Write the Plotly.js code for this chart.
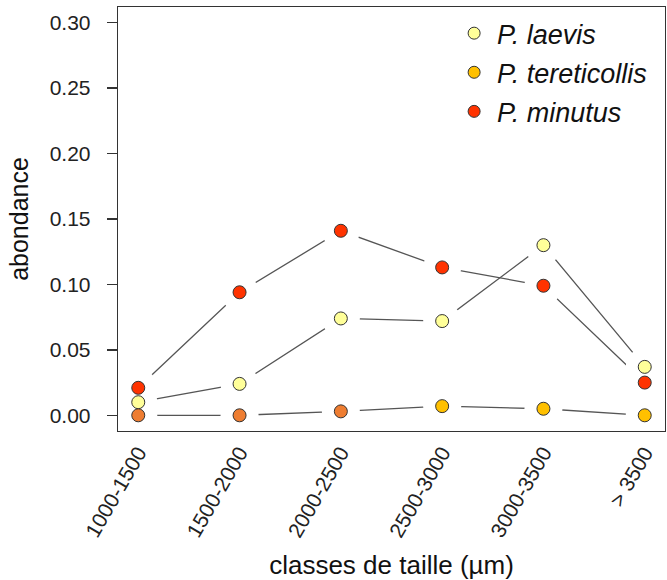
<!DOCTYPE html>
<html>
<head>
<meta charset="utf-8">
<script src="https://cdn.plot.ly/plotly-3.0.1.min.js"></script>
<style>
  html, body { margin: 0; padding: 0; background: #fff; }
  #chart { width: 667px; height: 580px; }
</style>
</head>
<body>
<div id="chart"></div>
<script>
// ---- data ----
const categories = ["1000-1500", "1500-2000", "2000-2500", "2500-3000", "3000-3500", "> 3500"];
const seriesNames = ["P. laevis", "P. tereticollis", "P. minutus"];
const laevis       = [0.010, 0.024, 0.074, 0.072, 0.130, 0.037];
const tereticollis = [0.000, 0.000, 0.003, 0.007, 0.005, 0.000];
const minutus      = [0.021, 0.094, 0.141, 0.113, 0.099, 0.025];
const yTicks = [0, 0.05, 0.10, 0.15, 0.20, 0.25, 0.30];

// ---- styles ----
const FONT = "Liberation Sans, Arial, sans-serif";
const fills = ["#FFFF99", "#FFC000", "#FF3300"];
const teretiFills = ["#EE7D31", "#EE7D31", "#EE7D31", "#FFC000", "#FFC000", "#FFC000"];
const seriesValues = [laevis, tereticollis, minutus];

const traces = [];
// connecting lines
seriesValues.forEach(function (vals) {
  traces.push({
    type: "scatter", mode: "lines", x: categories, y: vals,
    line: { color: "#555555", width: 1.3 }, showlegend: false, hoverinfo: "skip"
  });
});
// white halo to create the gaps around points (like R type="b")
traces.push({
  type: "scatter", mode: "markers",
  x: [].concat(categories, categories, categories),
  y: [].concat(laevis, tereticollis, minutus),
  marker: { color: "#ffffff", size: 38, line: { width: 0 } },
  showlegend: false, hoverinfo: "skip"
});
// points
seriesValues.forEach(function (vals, i) {
  traces.push({
    type: "scatter", mode: "markers", x: categories, y: vals,
    name: seriesNames[i],
    marker: { color: i === 1 ? teretiFills : fills[i], size: 13, line: { color: "#333333", width: 1 } },
    showlegend: false
  });
});
// legend entries
seriesValues.forEach(function (vals, i) {
  traces.push({
    type: "scatter", mode: "markers", x: [null], y: [null],
    name: "<i>" + seriesNames[i] + "</i>", legendgroup: "g" + i,
    marker: { color: fills[i], size: 12, line: { color: "#333333", width: 1 } },
    showlegend: true
  });
});

const layout = {
  width: 667, height: 580,
  margin: { l: 118, r: 2, t: 7, b: 149 },
  paper_bgcolor: "#ffffff", plot_bgcolor: "#ffffff",
  font: { family: FONT, color: "#222222", size: 21 },
  showlegend: true,
  legend: {
    x: 0.609, y: 0.995, xanchor: "left", yanchor: "top",
    font: { family: FONT, size: 27, color: "#111111" },
    bgcolor: "rgba(0,0,0,0)", borderwidth: 0,
    traceorder: "grouped", tracegroupgap: 1, itemwidth: 36
  },
  xaxis: {
    type: "category", range: [-0.2, 5.2],
    showgrid: false, zeroline: false,
    showline: true, mirror: true, linecolor: "#333333", linewidth: 1.3,
    ticks: "", tickangle: -60,
    tickfont: { family: FONT, size: 21, color: "#222222" },
    title: { text: "classes de taille (µm)", font: { family: FONT, size: 26, color: "#111111" }, standoff: 17 }
  },
  yaxis: {
    range: [-0.012, 0.312],
    tickvals: yTicks, tickformat: ".2f",
    showgrid: false, zeroline: false,
    showline: true, mirror: true, linecolor: "#333333", linewidth: 1.3,
    ticks: "outside", ticklen: 10, tickwidth: 1.3, tickcolor: "#333333",
    ticklabelstandoff: 12,
    tickfont: { family: FONT, size: 21, color: "#222222" },
    title: { text: "abondance", font: { family: FONT, size: 25, color: "#111111" }, standoff: 14 }
  }
};

Plotly.newPlot("chart", traces, layout, { displayModeBar: false, staticPlot: true });
</script>
</body>
</html>
